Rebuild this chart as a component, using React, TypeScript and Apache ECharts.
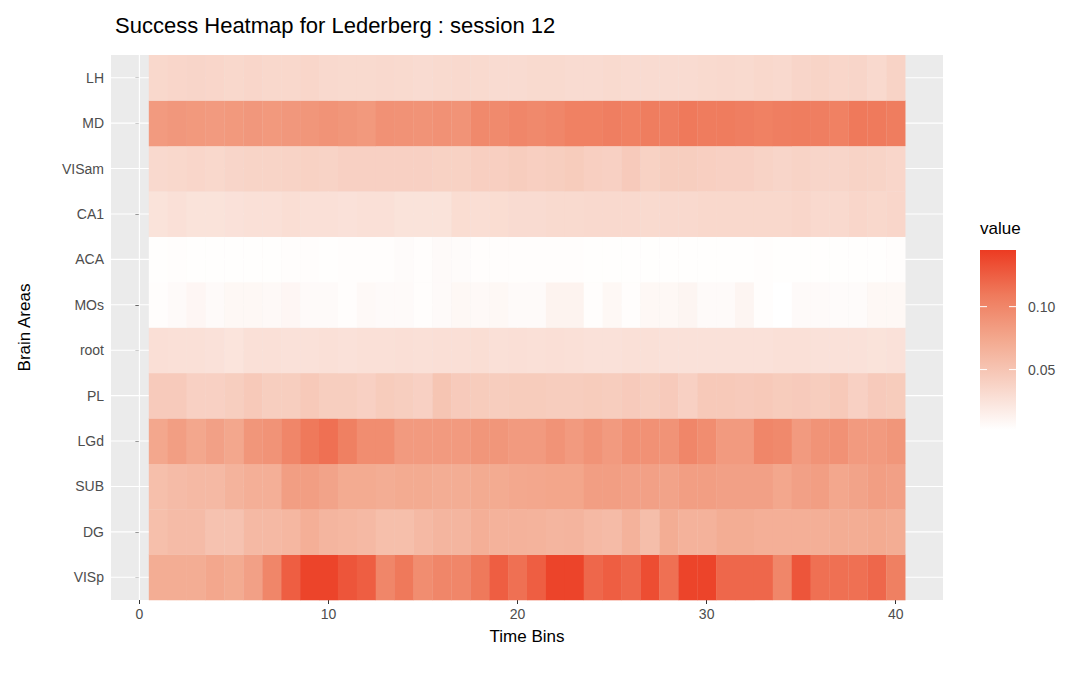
import React, { useEffect, useRef } from "react";
import * as echarts from "echarts";

const areas = ["VISp", "DG", "SUB", "LGd", "PL", "root", "MOs", "ACA", "CA1", "VISam", "MD", "LH"];
const xTicks = [0, 10, 20, 30, 40];
const legendTicks = [0.05, 0.1];
const vMin = 0.002;
const vMax = 0.145;
const palette = ["#FFFFFF", "#F8D3C6", "#F3A98F", "#EF7A5C", "#EC3B22"];

const VISp = [0.07,0.07,0.07,0.075,0.072,0.08,0.1,0.125,0.14,0.14,0.13,0.125,0.1,0.11,0.095,0.1,0.1,0.11,0.125,0.115,0.125,0.14,0.14,0.12,0.125,0.12,0.135,0.115,0.14,0.14,0.12,0.12,0.12,0.1,0.13,0.115,0.115,0.115,0.12,0.105];
const DG = [0.055,0.058,0.058,0.052,0.052,0.06,0.06,0.062,0.068,0.063,0.062,0.06,0.055,0.055,0.06,0.063,0.063,0.068,0.066,0.066,0.065,0.063,0.064,0.06,0.058,0.066,0.056,0.07,0.066,0.066,0.07,0.07,0.068,0.068,0.068,0.068,0.07,0.07,0.072,0.07];
const SUB = [0.055,0.058,0.06,0.06,0.065,0.068,0.068,0.082,0.082,0.078,0.072,0.072,0.07,0.072,0.072,0.07,0.07,0.072,0.072,0.074,0.075,0.076,0.076,0.082,0.082,0.08,0.08,0.078,0.082,0.082,0.08,0.08,0.08,0.075,0.08,0.082,0.075,0.078,0.082,0.08];
const LGd = [0.075,0.082,0.075,0.08,0.075,0.088,0.09,0.1,0.11,0.115,0.105,0.095,0.095,0.085,0.085,0.085,0.085,0.088,0.088,0.085,0.085,0.09,0.085,0.09,0.085,0.092,0.092,0.09,0.1,0.095,0.085,0.085,0.1,0.098,0.085,0.09,0.092,0.085,0.085,0.088];
const PL = [0.045,0.045,0.04,0.04,0.042,0.046,0.042,0.042,0.046,0.042,0.042,0.04,0.044,0.042,0.04,0.05,0.045,0.044,0.043,0.044,0.044,0.043,0.043,0.044,0.043,0.045,0.042,0.045,0.04,0.046,0.046,0.045,0.046,0.044,0.045,0.043,0.046,0.04,0.045,0.044];
const root = [0.028,0.027,0.027,0.026,0.024,0.027,0.027,0.026,0.026,0.027,0.026,0.027,0.027,0.028,0.027,0.028,0.028,0.029,0.027,0.028,0.027,0.028,0.027,0.026,0.026,0.027,0.027,0.026,0.026,0.026,0.026,0.026,0.026,0.027,0.027,0.026,0.026,0.026,0.025,0.026];
const MOs = [0.004,0.006,0.009,0.006,0.008,0.008,0.007,0.009,0.006,0.006,0.004,0.007,0.006,0.006,0.004,0.006,0.008,0.007,0.008,0.006,0.006,0.012,0.012,0.004,0.008,0.004,0.008,0.008,0.01,0.006,0.006,0.01,0.004,0.002,0.006,0.006,0.005,0.005,0.008,0.008];
const ACA = [0.003,0.004,0.003,0.003,0.003,0.003,0.003,0.004,0.004,0.003,0.004,0.004,0.004,0.005,0.004,0.006,0.005,0.004,0.004,0.004,0.004,0.004,0.004,0.003,0.003,0.003,0.003,0.003,0.003,0.003,0.003,0.003,0.004,0.003,0.003,0.003,0.003,0.003,0.003,0.004];
const CA1 = [0.025,0.027,0.025,0.025,0.026,0.027,0.027,0.029,0.027,0.027,0.026,0.027,0.027,0.025,0.025,0.025,0.03,0.029,0.03,0.031,0.031,0.032,0.032,0.033,0.033,0.033,0.032,0.033,0.033,0.034,0.034,0.034,0.034,0.034,0.035,0.033,0.033,0.035,0.034,0.035];
const VISam = [0.033,0.034,0.035,0.034,0.036,0.037,0.037,0.038,0.039,0.038,0.04,0.04,0.04,0.04,0.04,0.039,0.039,0.041,0.041,0.043,0.041,0.042,0.044,0.041,0.04,0.045,0.039,0.042,0.042,0.041,0.04,0.04,0.038,0.036,0.038,0.036,0.036,0.038,0.037,0.035];
const MD = [0.085,0.087,0.086,0.085,0.086,0.087,0.086,0.087,0.088,0.09,0.088,0.086,0.092,0.091,0.09,0.092,0.09,0.098,0.097,0.1,0.098,0.1,0.104,0.104,0.106,0.104,0.107,0.106,0.11,0.108,0.108,0.106,0.104,0.106,0.107,0.106,0.104,0.11,0.109,0.107];
const LH = [0.034,0.035,0.036,0.035,0.034,0.035,0.034,0.034,0.035,0.033,0.032,0.032,0.033,0.032,0.031,0.032,0.033,0.032,0.031,0.031,0.032,0.032,0.031,0.031,0.032,0.031,0.031,0.031,0.031,0.032,0.033,0.032,0.034,0.033,0.036,0.037,0.035,0.036,0.033,0.038];

const rows = [VISp, DG, SUB, LGd, PL, root, MOs, ACA, CA1, VISam, MD, LH];

export default function App() {
  const ref = useRef<HTMLDivElement>(null);
  useEffect(() => {
    const chart = echarts.init(ref.current!, null, { renderer: "svg" });
    const data: number[][] = [];
    rows.forEach((r, ri) => r.forEach((v, ci) => data.push([ci + 1, ri + 1, v])));
    const gridData: number[][] = [];
    [0, 10, 20, 30, 40].forEach((v) => gridData.push([0, v, 1.1]));
    [5, 15, 25, 35].forEach((v) => gridData.push([0, v, 0.5]));
    areas.forEach((_, i) => gridData.push([1, i + 1, 1.1]));
    const barTop = 242, barH = 180, barX = 972, barW = 36;
    const yOf = (v: number) => barTop + barH - ((v - vMin) / (vMax - vMin)) * barH;
    const font = "Liberation Sans, Arial, sans-serif";
    const graphics: any[] = [
      { type: "text", left: 972, top: 212, style: { text: "value", font: `17px ${font}`, fill: "#000" } },
      {
        type: "rect", shape: { x: barX, y: barTop, width: barW, height: barH },
        style: {
          fill: new echarts.graphic.LinearGradient(0, 1, 0, 0,
            palette.map((c, i) => ({ offset: i / (palette.length - 1), color: c }))),
        },
      },
    ];
    legendTicks.forEach((t) => {
      const y = yOf(t);
      graphics.push({ type: "line", shape: { x1: barX, y1: y, x2: barX + 7, y2: y }, style: { stroke: "#fff", lineWidth: 1 } });
      graphics.push({ type: "line", shape: { x1: barX + barW - 7, y1: y, x2: barX + barW, y2: y }, style: { stroke: "#fff", lineWidth: 1 } });
      graphics.push({ type: "text", x: 1020, y, style: { text: t.toFixed(2), font: `14px ${font}`, fill: "#4D4D4D", verticalAlign: "middle" } });
    });
    chart.setOption({
      animation: false,
      title: { text: "Success Heatmap for Lederberg : session 12", left: 102, top: 1, textStyle: { fontFamily: font, fontSize: 22, fontWeight: "normal", color: "#000" } },
      grid: { left: 103, top: 47, width: 832, height: 545, backgroundColor: "#EBEBEB", show: true, borderWidth: 0 },
      visualMap: { show: false, min: vMin, max: vMax, dimension: 2, seriesIndex: 1, inRange: { color: palette } },
      xAxis: {
        type: "value", min: -1.5, max: 42.5, name: "Time Bins", nameLocation: "middle", nameGap: 28,
        nameTextStyle: { fontFamily: font, fontSize: 17, color: "#000" },
        axisLine: { show: false }, splitLine: { show: false },
        axisTick: { show: true, length: 4, lineStyle: { color: "#333" }, customValues: xTicks },
        axisLabel: { customValues: xTicks, fontFamily: font, fontSize: 14, color: "#4D4D4D", margin: 7 },
      },
      yAxis: {
        type: "value", min: 0.5, max: 12.5, name: "Brain Areas", nameLocation: "middle", nameGap: 78,
        nameTextStyle: { fontFamily: font, fontSize: 17, color: "#000" },
        axisLine: { show: false }, splitLine: { show: false },
        axisTick: { show: true, length: 4, lineStyle: { color: "#333" }, customValues: areas.map((_, i) => i + 1) },
        axisLabel: { customValues: areas.map((_, i) => i + 1), formatter: (v: number) => areas[Math.round(v) - 1] ?? "", fontFamily: font, fontSize: 14, color: "#4D4D4D", margin: 7 },
      },
      graphic: graphics,
      series: [
        {
          type: "custom", data: gridData, silent: true, z: 1,
          renderItem: (params: any, api: any) => {
            const cs = params.coordSys;
            const o = api.value(0), v = api.value(1), w = api.value(2);
            if (o === 0) {
              const x = api.coord([v, 1])[0];
              return { type: "line", shape: { x1: x, y1: cs.y, x2: x, y2: cs.y + cs.height }, style: { stroke: "#fff", lineWidth: w } };
            }
            const y = api.coord([0, v])[1];
            return { type: "line", shape: { x1: cs.x, y1: y, x2: cs.x + cs.width, y2: y }, style: { stroke: "#fff", lineWidth: w } };
          },
        },
        {
          type: "custom", data, z: 2,
          renderItem: (_p: any, api: any) => {
            const x = api.value(0), y = api.value(1);
            const a = api.coord([x - 0.5, y + 0.5]);
            const b = api.coord([x + 0.5, y - 0.5]);
            const c = api.visual("color");
            return { type: "rect", shape: { x: a[0], y: a[1], width: b[0] - a[0] + 0.3, height: b[1] - a[1] + 0.3 }, style: { fill: c, stroke: null } };
          },
        },
      ],
    });
    return () => chart.dispose();
  }, []);
  return <div ref={ref} style={{ width: 1064, height: 676 }} />;
}
